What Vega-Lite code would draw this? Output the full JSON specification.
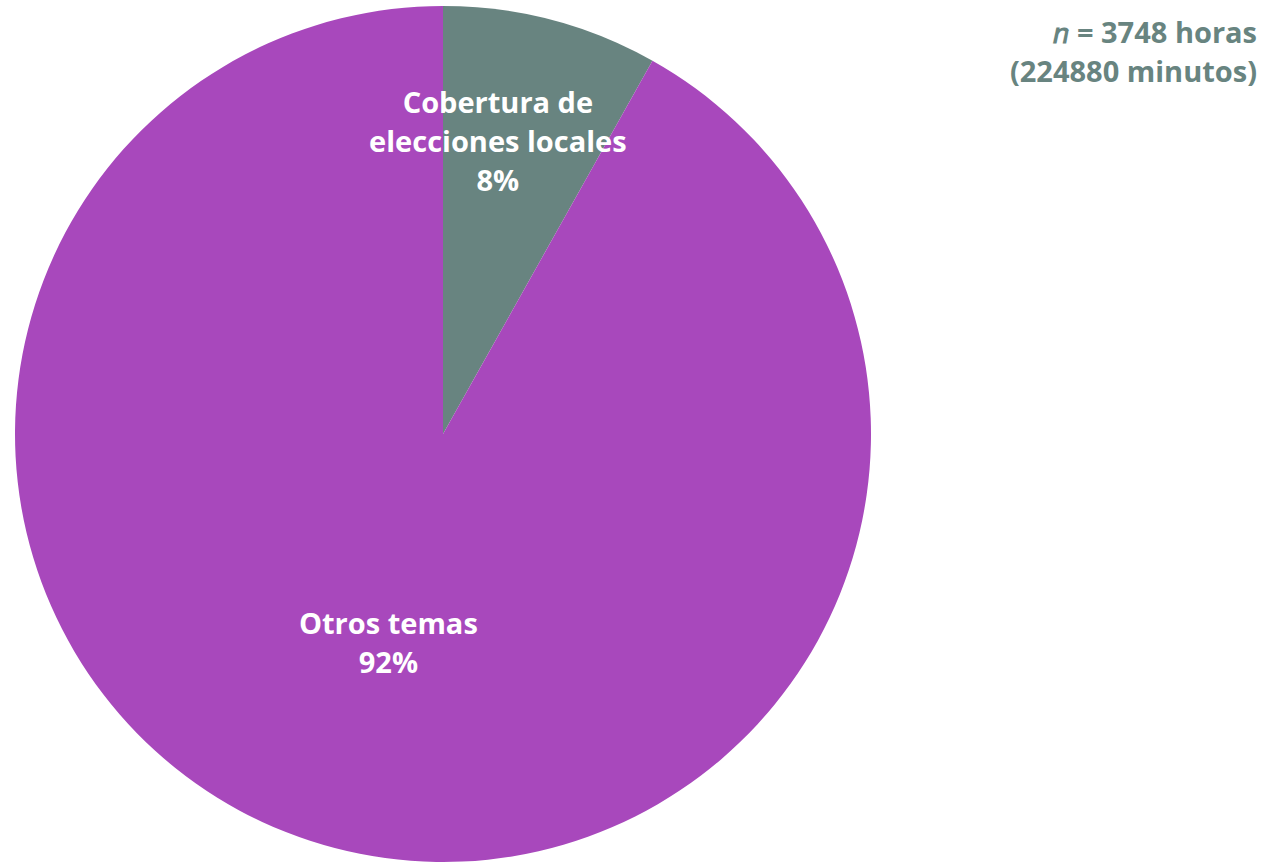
{
  "$schema": "https://vega.github.io/schema/vega-lite/v6.json",
  "autosize": {"type": "none"},
  "width": 886,
  "height": 856,
  "padding": {"left": 0, "top": 6, "right": 386, "bottom": 0},
  "background": "white",
  "title": {
    "text": ["𝑛 = 3748 horas", "(224880 minutos)"],
    "anchor": "end",
    "orient": "top",
    "align": "right",
    "baseline": "top",
    "dx": 371,
    "dy": 86,
    "font": "Open Sans",
    "fontWeight": "bold",
    "fontSize": 29,
    "lineHeight": 39,
    "color": "#688480"
  },
  "data": {
    "values": [
      {"tema": "Cobertura de elecciones locales", "pct": 8.14, "etiqueta": "Cobertura de\nelecciones locales\n8%", "orden": 1},
      {"tema": "Otros temas", "pct": 91.86, "etiqueta": "Otros temas\n92%", "orden": 2}
    ]
  },
  "encoding": {
    "theta": {"field": "pct", "type": "quantitative", "stack": true},
    "order": {"field": "orden", "type": "quantitative"}
  },
  "layer": [
    {
      "mark": {"type": "arc", "outerRadius": 428},
      "encoding": {
        "color": {
          "field": "tema",
          "type": "nominal",
          "scale": {"domain": ["Cobertura de elecciones locales", "Otros temas"], "range": ["#688480", "#a848bc"]},
          "legend": null
        }
      }
    },
    {
      "mark": {"type": "text", "radius": 300, "dx": -21, "dy": -40, "font": "Open Sans", "fontWeight": "bold", "fontSize": 29, "lineHeight": 39, "lineBreak": "\n", "fill": "white", "align": "center", "baseline": "middle"},
      "encoding": {
        "text": {"condition": {"test": "datum.orden == 1", "field": "etiqueta", "type": "nominal"}, "value": ""}
      }
    },
    {
      "mark": {"type": "text", "radius": 216, "dy": -18, "font": "Open Sans", "fontWeight": "bold", "fontSize": 29, "lineHeight": 39, "lineBreak": "\n", "fill": "white", "align": "center", "baseline": "middle"},
      "encoding": {
        "text": {"condition": {"test": "datum.orden == 2", "field": "etiqueta", "type": "nominal"}, "value": ""}
      }
    }
  ]
}
